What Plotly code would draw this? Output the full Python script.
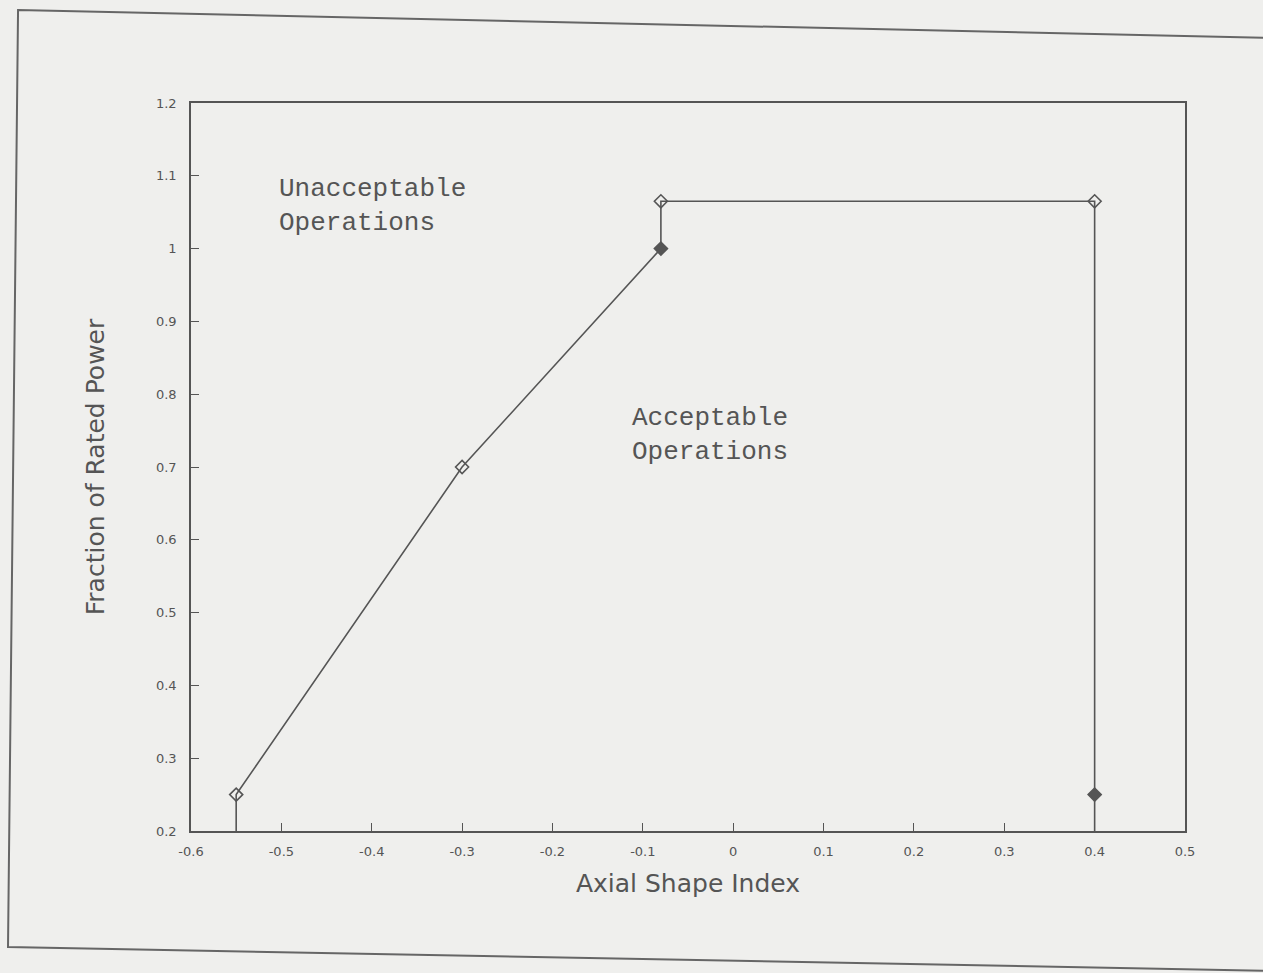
import plotly.graph_objects as go

# Data
asi = [-0.55, -0.30, -0.08, -0.08, 0.40, 0.40]          # Axial Shape Index
power = [0.25, 0.70, 1.00, 1.065, 1.065, 0.25]          # Fraction of Rated Power
marker_symbols = ["diamond-open", "diamond-open", "diamond", "diamond-open", "diamond-open", "diamond"]

x_range = [-0.6, 0.5]
y_range = [0.2, 1.2]
x_tickvals = [-0.6, -0.5, -0.4, -0.3, -0.2, -0.1, 0.0, 0.1, 0.2, 0.3, 0.4, 0.5]
x_ticktext = ["-0.6", "-0.5", "-0.4", "-0.3", "-0.2", "-0.1", "0", "0.1", "0.2", "0.3", "0.4", "0.5"]
y_tickvals = [0.2, 0.3, 0.4, 0.5, 0.6, 0.7, 0.8, 0.9, 1.0, 1.1, 1.2]
y_ticktext = ["0.2", "0.3", "0.4", "0.5", "0.6", "0.7", "0.8", "0.9", "1", "1.1", "1.2"]

# the limit line drops to the axis floor at both ends
line_x = [asi[0]] + asi + [asi[-1]]
line_y = [y_range[0]] + power + [y_range[0]]

W, H = 1263, 973
L, R, T, B = 191, 78, 103, 142

INK = "#555555"
BG = "#efefed"

fig = go.Figure()
fig.add_trace(go.Scatter(x=line_x, y=line_y, mode="lines",
                         line=dict(color=INK, width=1.6), hoverinfo="skip", showlegend=False))
fig.add_trace(go.Scatter(x=asi, y=power, mode="markers",
                         marker=dict(symbol=marker_symbols, size=10, color=INK,
                                     line=dict(color=INK, width=1.6)),
                         showlegend=False))

fig.add_annotation(x=-0.505, y=1.105, xref="x", yref="y", xanchor="left", yanchor="top",
                   text="Unacceptable<br>Operations", showarrow=False, align="left",
                   font=dict(family="Liberation Mono", size=26, color=INK))
fig.add_annotation(x=-0.114, y=0.79, xref="x", yref="y", xanchor="left", yanchor="top",
                   text="Acceptable<br>Operations", showarrow=False, align="left",
                   font=dict(family="Liberation Mono", size=26, color=INK))

# scanned-page outer frame
pw, ph = W - L - R, H - T - B
def px(xp): return (xp - L) / pw
def py(yp): return 1 - (yp - T) / ph
frame = [(18, 10), (1275, 38), (1275, 971), (8, 947)]
path = "M " + " L ".join(f"{px(a):.4f},{py(b):.4f}" for a, b in frame) + " Z"
fig.add_shape(type="path", path=path, xref="paper", yref="paper",
              line=dict(color="#666666", width=2), layer="below")

axis_common = dict(showline=True, linecolor=INK, linewidth=1.6, mirror=True,
                   ticks="inside", ticklen=8, tickwidth=1.4, tickcolor=INK,
                   showgrid=False, zeroline=False,
                   tickfont=dict(family="DejaVu Sans", size=13, color=INK))

fig.update_xaxes(range=x_range, tickvals=x_tickvals, ticktext=x_ticktext,
                 ticklabelstandoff=8,
                 title=dict(text="Axial Shape Index", standoff=16,
                            font=dict(family="DejaVu Sans", size=25, color=INK)),
                 **axis_common)
fig.update_yaxes(range=y_range, tickvals=y_tickvals, ticktext=y_ticktext,
                 ticklabelstandoff=10,
                 title=dict(text="Fraction of Rated Power", standoff=44,
                            font=dict(family="DejaVu Sans", size=25, color=INK)),
                 **axis_common)

fig.update_layout(width=W, height=H, autosize=False,
                  margin=dict(l=L, r=R, t=T, b=B),
                  paper_bgcolor=BG, plot_bgcolor=BG)

fig.write_html("out.html", config={"displayModeBar": False},
               post_script="document.body.style.margin='0';document.body.style.overflow='hidden';")
